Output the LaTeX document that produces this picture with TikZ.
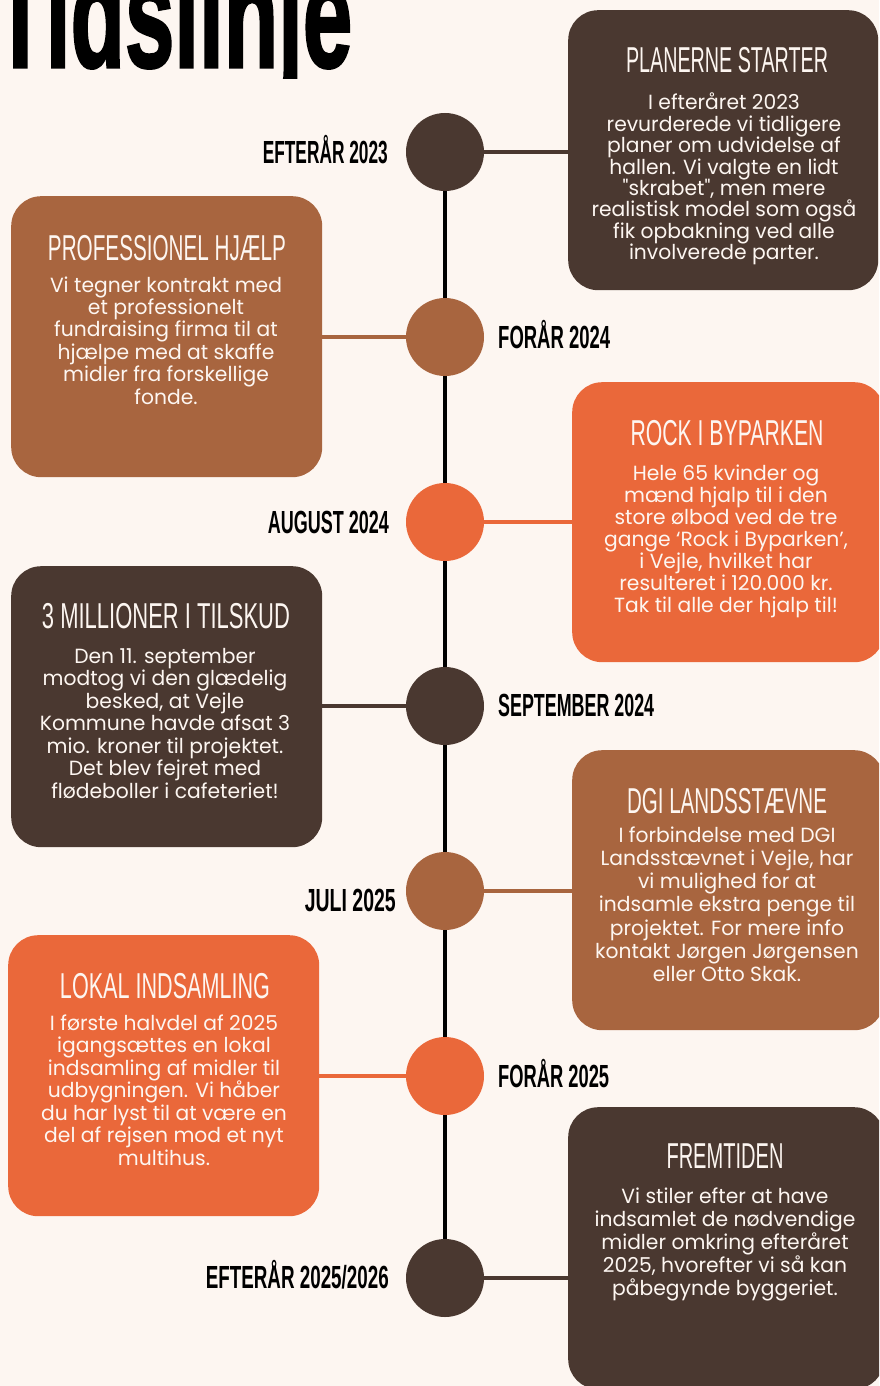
\documentclass[tikz,border=0pt]{standalone}
\usepackage{fontspec}
\usepackage{graphicx}
\setmainfont{Poppins}
\newfontfamily\bodyfont{Poppins}
\newfontfamily\condfont{Liberation Sans}
\newfontfamily\heavyfont[FakeBold=2]{Liberation Sans}
\definecolor{bgc}{RGB}{253,246,241}
\definecolor{darkb}{RGB}{74,56,48}
\definecolor{midb}{RGB}{168,101,63}
\definecolor{orng}{RGB}{234,104,58}
\newcommand\bodyblock[2]{\vtop{\bodyfont\fontsize{20.5pt}{#1}\selectfont\lineskiplimit=-100pt\relax\halign{\hfil##\hfil\cr#2\crcr}}}
\newcommand\boxtitle[2]{\resizebox{#1}{\height}{\condfont\fontsize{36pt}{36pt}\selectfont #2}}
\newcommand\datelabel[2]{\resizebox{#1}{\height}{\condfont\bfseries\fontsize{32pt}{32pt}\selectfont #2}}
\newcommand\bodyscale{0.99}
\tikzset{
  cardbox/.style={rounded corners=30pt, minimum width=310pt, minimum height=280pt, inner sep=0pt, anchor=north west, draw=none},
  dot/.style={circle, minimum size=78pt, inner sep=0pt, draw=none},
  conn/.style={line width=3.6pt},
  spine/.style={line width=4pt, black},
  ttl/.style={anchor=base, inner sep=0pt, text=bgc},
  bodytxt/.style={anchor=base, inner sep=0pt, text=bgc},
  datelbl/.style={inner sep=0pt, text=black}
}
\begin{document}
\begin{tikzpicture}[x=1pt,y=-1pt]
\useasboundingbox (0,0) rectangle (879,1386);
\fill[bgc] (0,0) rectangle (879,1386);
\begin{scope}
\clip (0,0) rectangle (879,79);
\node[anchor=base west, inner sep=0pt] (maintitle) at (-7,67) {\resizebox{359pt}{\height}{\heavyfont\bfseries\fontsize{150pt}{150pt}\selectfont Tidslinje}};
\end{scope}
\begin{scope}
\clip (0,0) rectangle (879,1386);
% boxes
\node[cardbox, fill=darkb] (b1) at (568,10) {};
\node[cardbox, fill=midb, minimum width=311pt, minimum height=281pt] (b2) at (11,196) {};
\node[cardbox, fill=orng, minimum width=312pt] (b3) at (572,382) {};
\node[cardbox, fill=darkb, minimum width=311pt, minimum height=281pt] (b4) at (11,566) {};
\node[cardbox, fill=midb, minimum width=312pt] (b5) at (572,750) {};
\node[cardbox, fill=orng, minimum width=311pt, minimum height=281pt] (b6) at (8,935) {};
\node[cardbox, fill=darkb, minimum width=316pt, minimum height=282pt] (b7) at (568,1107) {};
% circles
\node[dot, fill=darkb] (c1) at (445,152) {};
\node[dot, fill=midb]  (c2) at (445,337) {};
\node[dot, fill=orng]  (c3) at (445,522) {};
\node[dot, fill=darkb] (c4) at (445,706) {};
\node[dot, fill=midb]  (c5) at (445,891) {};
\node[dot, fill=orng]  (c6) at (445,1076) {};
\node[dot, fill=darkb] (c7) at (445,1278) {};
% spine
\draw[spine] (c1.south) -- (c2.north);
\draw[spine] (c2.south) -- (c3.north);
\draw[spine] (c3.south) -- (c4.north);
\draw[spine] (c4.south) -- (c5.north);
\draw[spine] (c5.south) -- (c6.north);
\draw[spine] (c6.south) -- (c7.north);
% connectors
\draw[conn, darkb] (c1.east) -- (c1.east -| b1.west);
\draw[conn, midb]  (c2.west) -- (c2.west -| b2.east);
\draw[conn, orng]  (c3.east) -- (c3.east -| b3.west);
\draw[conn, darkb] (c4.west) -- (c4.west -| b4.east);
\draw[conn, midb]  (c5.east) -- (c5.east -| b5.west);
\draw[conn, orng]  (c6.west) -- (c6.west -| b6.east);
\draw[conn, darkb] (c7.east) -- (c7.east -| b7.west);
% date labels
\node[datelbl, anchor=base east] (l1) at (388,163) {\datelabel{125pt}{EFTERÅR 2023}};
\node[datelbl, anchor=base west] (l2) at (498,348) {\datelabel{112pt}{FORÅR 2024}};
\node[datelbl, anchor=base east] (l3) at (389,533) {\datelabel{121pt}{AUGUST 2024}};
\node[datelbl, anchor=base west] (l4) at (498,716) {\datelabel{156pt}{SEPTEMBER 2024}};
\node[datelbl, anchor=base east] (l5) at (396,911) {\datelabel{91pt}{JULI 2025}};
\node[datelbl, anchor=base west] (l6) at (498,1087) {\datelabel{111pt}{FORÅR 2025}};
\node[datelbl, anchor=base east] (l7) at (389,1288) {\datelabel{183pt}{EFTERÅR 2025/2026}};
% box titles
\node[ttl] (t1) at (727,73) {\boxtitle{202pt}{PLANERNE STARTER}};
\node[ttl] (t2) at (167,260) {\boxtitle{238pt}{PROFESSIONEL HJÆLP}};
\node[ttl] (t3) at (727,445) {\boxtitle{193pt}{ROCK I BYPARKEN}};
\node[ttl] (t4) at (166,628) {\boxtitle{248pt}{3 MILLIONER I TILSKUD}};
\node[ttl] (t5) at (727,813) {\boxtitle{200pt}{DGI LANDSSTÆVNE}};
\node[ttl] (t6) at (165,998) {\boxtitle{210pt}{LOKAL INDSAMLING}};
\node[ttl] (t7) at (725,1168) {\boxtitle{117pt}{FREMTIDEN}};
% body texts
\node[bodytxt] (d1) at (724,110) {\scalebox{\bodyscale}[1]{\bodyblock{21.4pt}{I efteråret 2023\cr revurderede vi tidligere\cr planer om udvidelse af\cr hallen. Vi valgte en lidt\cr "skrabet", men mere\cr realistisk model som også\cr fik opbakning ved alle\cr involverede parter.}}};
\node[bodytxt] (d2) at (166,292) {\scalebox{\bodyscale}[1]{\bodyblock{22.4pt}{Vi tegner kontrakt med\cr et professionelt\cr fundraising firma til at\cr hjælpe med at skaffe\cr midler fra forskellige\cr fonde.}}};
\node[bodytxt] (d3) at (726,480) {\scalebox{\bodyscale}[1]{\bodyblock{22pt}{Hele 65 kvinder og\cr mænd hjalp til i den\cr store ølbod ved de tre\cr gange ‘Rock i Byparken’,\cr i Vejle, hvilket har\cr resulteret i 120.000 kr.\cr Tak til alle der hjalp til!}}};
\node[bodytxt] (d4) at (165,663) {\scalebox{\bodyscale}[1]{\bodyblock{22.5pt}{Den 11. september\cr modtog vi den glædelig\cr besked, at Vejle\cr Kommune havde afsat 3\cr mio. kroner til projektet.\cr Det blev fejret med\cr flødeboller i cafeteriet!}}};
\node[bodytxt] (d5) at (727,842) {\scalebox{\bodyscale}[1]{\bodyblock{23.3pt}{I forbindelse med DGI\cr Landsstævnet i Vejle, har\cr vi mulighed for at\cr indsamle ekstra penge til\cr projektet. For mere info\cr kontakt Jørgen Jørgensen\cr eller Otto Skak.}}};
\node[bodytxt] (d6) at (164,1030) {\scalebox{\bodyscale}[1]{\bodyblock{22.5pt}{I første halvdel af 2025\cr igangsættes en lokal\cr indsamling af midler til\cr udbygningen. Vi håber\cr du har lyst til at være en\cr del af rejsen mod et nyt\cr multihus.}}};
\node[bodytxt] (d7) at (725,1203) {\scalebox{\bodyscale}[1]{\bodyblock{23pt}{Vi stiler efter at have\cr indsamlet de nødvendige\cr midler omkring efteråret\cr 2025, hvorefter vi så kan\cr påbegynde byggeriet.}}};
\end{scope}
\end{tikzpicture}
\end{document}
